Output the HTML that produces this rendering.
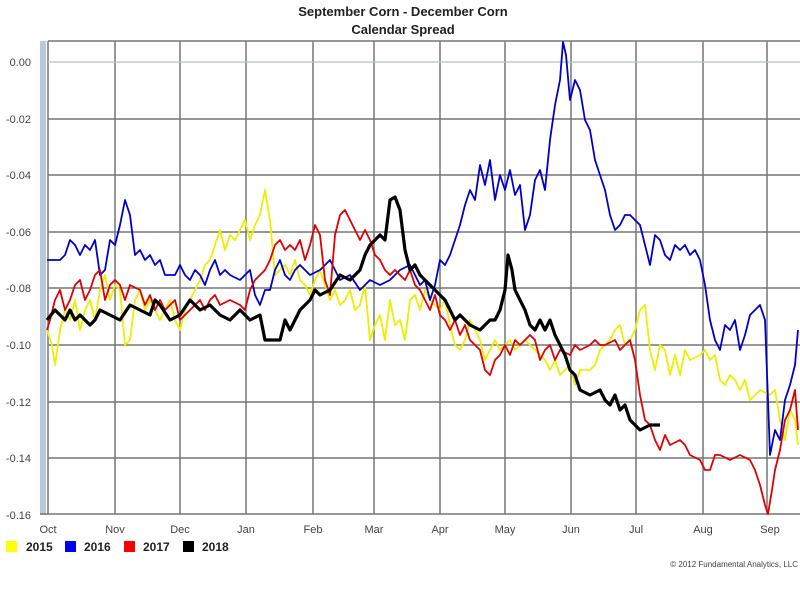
<!DOCTYPE html>
<html><head><meta charset="utf-8"><style>
body{margin:0;background:#fff;width:800px;height:594px;overflow:hidden;font-family:"Liberation Sans",sans-serif}
</style></head><body>
<svg width="800" height="594" xmlns="http://www.w3.org/2000/svg" font-family="Liberation Sans, sans-serif">
<text x="403" y="16" text-anchor="middle" font-size="13" font-weight="bold" fill="#222">September Corn - December Corn</text>
<text x="403" y="34" text-anchor="middle" font-size="13" font-weight="bold" fill="#222">Calendar Spread</text>
<rect x="40" y="41" width="6" height="474" fill="#b9c9dc"/>
<g stroke="#777" stroke-width="1.5">
<line x1="48" y1="41" x2="800" y2="41"/>
<line x1="48" y1="119" x2="800" y2="119"/><line x1="48" y1="175" x2="800" y2="175"/>
<line x1="48" y1="232" x2="800" y2="232"/><line x1="48" y1="288" x2="800" y2="288"/>
<line x1="48" y1="345" x2="800" y2="345"/><line x1="48" y1="402" x2="800" y2="402"/>
<line x1="48" y1="458" x2="800" y2="458"/><line x1="40" y1="514" x2="800" y2="514"/>
<line x1="48" y1="41" x2="48" y2="514"/><line x1="115" y1="41" x2="115" y2="514"/>
<line x1="180" y1="41" x2="180" y2="514"/><line x1="246" y1="41" x2="246" y2="514"/>
<line x1="313" y1="41" x2="313" y2="514"/><line x1="374" y1="41" x2="374" y2="514"/>
<line x1="440" y1="41" x2="440" y2="514"/><line x1="505" y1="41" x2="505" y2="514"/>
<line x1="571" y1="41" x2="571" y2="514"/><line x1="636" y1="41" x2="636" y2="514"/>
<line x1="703" y1="41" x2="703" y2="514"/><line x1="767" y1="41" x2="767" y2="514"/>
</g>
<line x1="48" y1="62" x2="800" y2="62" stroke="#a9c3cf" stroke-width="1.2"/>
<g font-size="11" fill="#444" text-anchor="end">
<text x="31" y="66">0.00</text><text x="31" y="123">-0.02</text><text x="31" y="179">-0.04</text>
<text x="31" y="236">-0.06</text><text x="31" y="292">-0.08</text><text x="31" y="349">-0.10</text>
<text x="31" y="406">-0.12</text><text x="31" y="462">-0.14</text><text x="31" y="519">-0.16</text>
</g>
<g font-size="11" fill="#444" text-anchor="middle">
<text x="48" y="533">Oct</text><text x="115" y="533">Nov</text><text x="180" y="533">Dec</text>
<text x="246" y="533">Jan</text><text x="313" y="533">Feb</text><text x="374" y="533">Mar</text>
<text x="440" y="533">Apr</text><text x="505" y="533">May</text><text x="571" y="533">Jun</text>
<text x="636" y="533">Jul</text><text x="703" y="533">Aug</text><text x="770" y="533">Sep</text>
</g>
<g fill="none" stroke-linejoin="round">
<polyline stroke="#eeee00" stroke-width="1.8" points="47,330 52,345 55,365 60,330 65,310 70,320 75,300 80,330 85,310 90,300 95,320 100,290 105,275 110,300 115,285 120,290 125,345 130,340 135,300 140,290 145,310 150,300 160,320 170,300 175,320 180,330 185,310 190,300 200,280 205,265 210,260 215,245 220,230 225,250 230,235 235,240 240,230 245,220 250,240 255,225 260,215 265,190 270,220 275,275 280,270 285,265 290,275 295,260 300,280 305,285 310,295 315,280 320,270 325,285 330,300 335,290 340,305 345,300 350,290 355,310 360,305 365,285 370,340 375,325 380,315 385,340 390,300 395,325 400,320 405,340 410,300 415,295 420,310 425,290 430,300 440,310 445,300 450,325 455,345 460,350 465,340 470,320 475,330 480,340 485,360 490,350 495,340 500,350 505,345 510,340 515,350 520,345 525,340 530,345 540,355 545,360 550,370 555,360 560,375 570,365 575,385 580,370 590,370 595,365 600,350 610,340 615,330 620,325 625,345 630,340 635,330 640,310 645,305 650,350 655,370 660,345 665,350 670,375 675,355 680,375 685,350 690,360 700,355 705,350 710,360 715,355 720,380 725,385 730,375 735,380 740,390 745,380 750,400 755,395 760,390 770,395 775,390 780,420 785,440 790,410 795,420 798,445"/>
<polyline stroke="#0000cc" stroke-width="1.8" points="47,260 60,260 65,255 70,240 75,245 80,255 85,245 90,250 95,240 100,275 105,270 110,240 115,245 120,225 125,200 130,215 135,255 140,250 145,260 150,255 155,265 160,260 165,275 175,275 180,265 185,275 190,280 195,270 200,275 205,285 210,270 215,260 220,275 225,270 230,275 240,280 245,275 250,270 255,295 260,305 265,290 270,290 275,270 280,260 285,275 290,280 295,270 300,265 310,275 320,270 330,260 340,280 350,275 360,290 370,280 380,285 390,280 400,270 410,265 420,285 425,280 430,300 435,285 440,260 445,265 450,255 455,240 460,225 465,205 470,190 475,200 480,165 485,185 490,160 495,200 500,175 505,190 510,170 515,195 520,185 525,230 530,215 535,180 540,170 545,190 550,140 555,105 560,80 563,42 566,55 570,100 575,80 580,90 585,120 590,130 595,160 600,175 605,190 610,215 615,230 620,225 625,215 630,215 635,220 640,225 645,245 650,265 655,235 660,240 665,255 670,260 675,245 680,250 685,245 690,255 695,250 700,260 705,285 710,320 715,340 720,350 725,325 730,330 735,320 740,350 745,335 750,315 755,310 760,305 765,320 768,400 770,455 775,430 780,440 785,400 790,385 795,365 798,330"/>
<polyline stroke="#e00000" stroke-width="1.8" points="47,330 50,320 55,300 60,290 65,310 70,300 75,285 80,280 85,300 90,290 95,275 100,270 105,300 110,285 115,280 120,285 125,300 130,285 140,290 145,305 150,295 155,310 160,300 165,310 175,300 180,320 190,310 200,300 205,310 210,300 215,295 220,305 230,300 240,305 245,310 250,290 255,280 260,275 265,270 270,260 275,245 280,240 285,250 290,245 295,250 300,240 305,260 310,245 315,225 320,235 325,280 330,295 335,235 340,215 345,210 350,220 355,230 360,240 365,230 370,240 375,255 380,260 385,270 390,275 395,270 400,275 405,280 410,270 415,285 420,290 425,300 430,310 435,295 440,315 445,320 450,330 455,320 460,335 465,325 470,340 475,345 480,350 485,370 490,375 495,360 500,355 505,345 510,355 515,340 520,345 530,335 535,340 540,360 545,350 550,345 555,360 560,350 570,355 575,345 580,350 590,345 595,340 600,345 605,345 615,340 620,350 625,345 630,340 635,360 640,395 645,420 650,425 655,440 660,450 665,435 670,445 680,440 685,445 690,455 700,460 705,470 710,470 715,455 720,455 730,460 740,455 750,460 755,470 760,485 765,505 768,514 772,490 775,470 780,450 785,420 790,410 795,390 798,430"/>
<polyline stroke="#000" stroke-width="3.2" points="47,320 55,310 60,315 65,320 70,310 75,320 80,315 90,325 95,320 100,310 110,315 120,320 130,305 140,310 150,315 155,300 160,305 170,320 180,315 190,300 200,310 210,305 220,315 230,320 240,310 250,320 260,315 265,340 280,340 285,320 290,330 300,310 305,305 310,300 315,290 320,295 330,290 340,275 350,280 360,270 365,255 370,245 375,240 380,235 385,240 390,200 395,197 400,210 405,250 410,270 415,265 420,275 425,280 430,285 435,290 440,295 445,300 450,310 455,320 460,315 470,325 480,330 490,320 495,320 500,310 505,290 508,255 512,270 515,290 520,300 525,310 530,325 535,330 540,320 545,330 550,320 555,335 560,345 565,355 570,370 575,375 580,390 590,395 600,390 605,400 610,405 615,395 620,410 625,405 630,420 635,425 640,430 650,425 660,425"/>
</g>
<g font-size="12" font-weight="bold" fill="#222">
<rect x="6" y="541" width="11" height="11" fill="#ffff00"/><text x="26" y="551">2015</text>
<rect x="65" y="541" width="11" height="11" fill="#0000ff"/><text x="84" y="551">2016</text>
<rect x="124" y="541" width="11" height="11" fill="#ff0000"/><text x="143" y="551">2017</text>
<rect x="183" y="541" width="11" height="11" fill="#000"/><text x="202" y="551">2018</text>
</g>
<text x="798" y="567" text-anchor="end" font-size="8" fill="#444">© 2012 Fundamental Analytics, LLC</text>
</svg>
</body></html>
